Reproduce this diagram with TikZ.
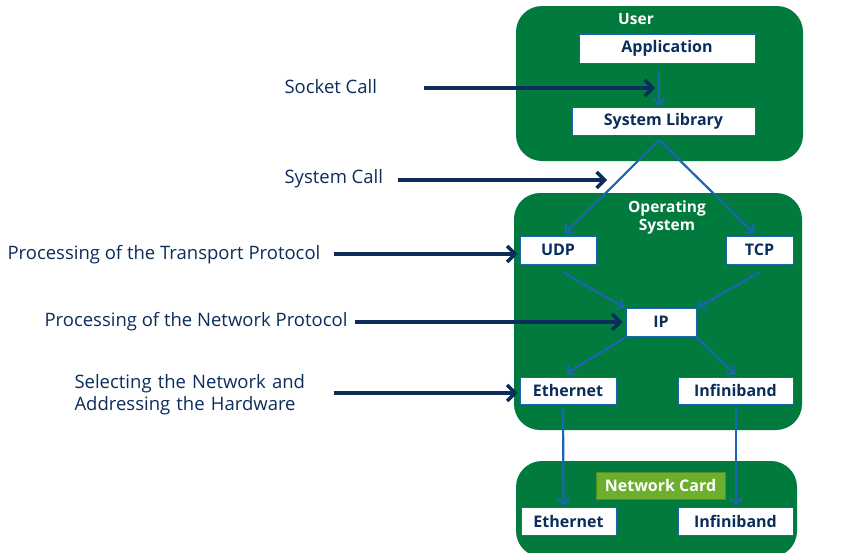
\documentclass[tikz,border=0pt]{standalone}
\usepackage{fontspec}
\setmainfont{Open Sans}
\usetikzlibrary{arrows.meta}

\definecolor{boxgreen}{HTML}{007A3D}
\definecolor{cardgreen}{HTML}{6BAF2C}
\definecolor{navy}{HTML}{0B2D5B}
\definecolor{linkblue}{HTML}{1A66B0}

\tikzset{
  layer/.style={fill=boxgreen, rounded corners=26pt, inner sep=0pt},
  unit/.style={draw=linkblue, fill=white, line width=0.8pt, text=navy,
    font=\fontsize{16}{18}\selectfont\bfseries, inner sep=0pt},
  title/.style={text=white, font=\fontsize{15.5}{18}\selectfont\bfseries, align=center},
  remark/.style={text=navy, font=\fontsize{18.5}{22}\selectfont, align=left},
  call/.style={navy, line width=4pt, -{Straight Barb[length=8pt,width=16pt,line width=3.5pt]}},
  link/.style={linkblue, line width=2.2pt, -{Straight Barb[length=6pt,width=12pt,line width=2pt]}},
}

\begin{document}
\begin{tikzpicture}[x=1pt,y=-1pt]
            \useasboundingbox (0,0) rectangle (842,552);
            % the three layers
            \node[layer, minimum width=287pt, minimum height=155pt] (user) at (659.5,83.5) {};
            \node[layer, minimum width=288pt, minimum height=237pt] (os) at (658,311.5) {};
            \node[layer, minimum width=281pt, minimum height=96pt] (card) at (656.5,509) {};
            \node[title] (usertitle) at (636,19) {User};
            \node[title] (ostitle) at (667,217) {Operating\\System};
            \node[unit, fill=cardgreen, draw=cardgreen!80!black, text=white, minimum width=129pt, minimum height=27pt] (cardtitle) at (660.5,485.5) {Network Card};
            % units
            \node[unit, minimum width=176pt, minimum height=29pt] (app) at (667,48.5) {Application};
            \node[unit, minimum width=183pt, minimum height=28pt] (lib) at (663.5,121) {System Library};
            \node[unit, minimum width=76pt, minimum height=28pt] (udp) at (558,250) {UDP};
            \node[unit, minimum width=67pt, minimum height=28pt] (tcp) at (759.5,250) {TCP};
            \node[unit, minimum width=70pt, minimum height=28pt] (ip) at (661,322) {IP};
            \node[unit, minimum width=96pt, minimum height=27pt] (etha) at (568,390.5) {Ethernet\hspace{6pt}};
            \node[unit, minimum width=115pt, minimum height=27pt] (infa) at (735.5,390.5) {Infiniband\hspace{12pt}};
            \node[unit, minimum width=95pt, minimum height=28pt] (ethb) at (568.5,521) {Ethernet};
            \node[unit, minimum width=115pt, minimum height=28pt] (infb) at (735.5,521) {Infiniband\hspace{10pt}};
            % remarks on the left
            \node[remark, anchor=west] (socket) at (281,87) {Socket Call};
            \node[remark, anchor=west] (syscall) at (281,179) {System Call};
            \node[remark, anchor=west] (transport) at (4,255) {Processing of the Transport Protocol};
            \node[remark, anchor=west] (network) at (41,322) {Processing of the Network Protocol};
            \node[remark, anchor=west, text width=240pt] (hardware) at (71,395) {Selecting the Network and\\Addressing the Hardware};
            % links between units
            \coordinate (fork) at (659,140);
            \draw[link] (659,70) -- (659,106);
            \draw[link] (fork) -- ([shift={(7pt,2pt)}]udp.north);
            \draw[link] (fork) -- ([shift={(-5pt,2pt)}]tcp.north);
            \draw[link] ([shift={(5pt,-8pt)}]udp.south) -- ([xshift=-1pt]ip.north west);
            \draw[link] ([yshift=-8pt]tcp.south) -- ([xshift=1pt]ip.north east);
            \draw[link] ([yshift=-1pt]ip.south west) -- ([shift={(-2pt,3pt)}]etha.north);
            \draw[link] ([yshift=-1pt]ip.south east) -- ([yshift=2pt]infa.north);
            \draw[link] ([shift={(-5pt,-4pt)}]etha.south) -- ([shift={(-5pt,1pt)}]ethb.north);
            \draw[link] ([shift={(0.5pt,-4pt)}]infa.south) -- ([shift={(0.5pt,1pt)}]infb.north);
            % calls from the left
            \coordinate (socketend) at (655,88);
            \coordinate (syscallend) at (607,180);
            \draw[call] (424,88) -- (socketend);
            \draw[call] (398,180) -- (syscallend);
            \draw[call] (334,254) -- ([shift={(-2pt,-4pt)}]udp.west);
            \draw[call] (355,322) -- ([xshift=-3pt]ip.west);
            \draw[call] (334,393) -- ([shift={(-2pt,-2.5pt)}]etha.west);
        \end{tikzpicture}
\end{document}
